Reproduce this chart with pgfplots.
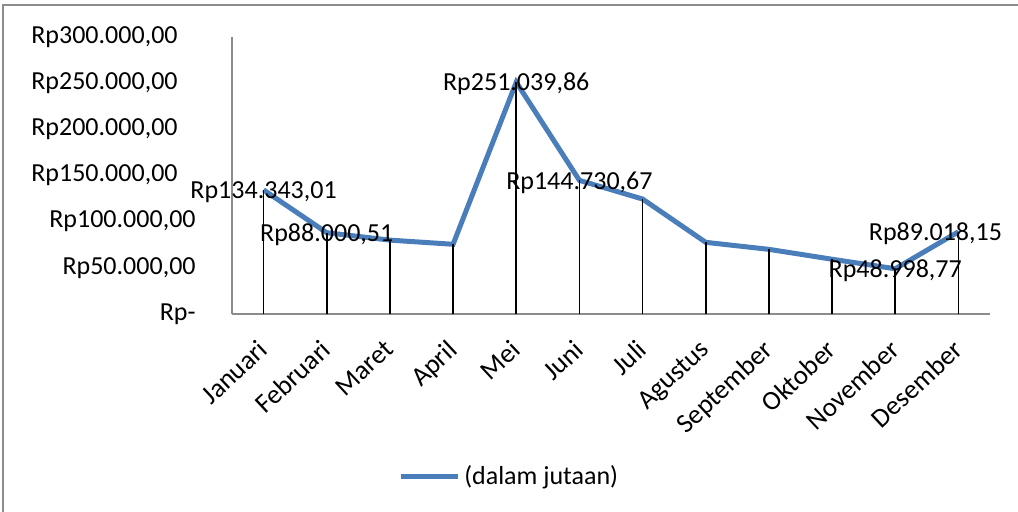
\documentclass[border=0pt]{standalone}
\usepackage{fontspec}
\setmainfont{Carlito}
\usepackage{pgfplots}
\pgfplotsset{compat=1.18}
\usepackage{pgfplotstable}
\definecolor{lineblue}{HTML}{4A7EBB}
\definecolor{axgray}{HTML}{8C8C8C}

\pgfplotstableread{
x y
0 134343.01
1 88000.51
2 80000
3 75500
4 251039.86
5 144730.67
6 124500
7 77600
8 70000
9 59300
10 48998.77
11 89018.15
}\datatable

\pgfplotstableread{
x y label
0 134343.01 Rp134.343,01
1 88000.51 Rp88.000,51
4 251039.86 Rp251.039,86
5 144730.67 Rp144.730,67
10 48998.77 Rp48.998,77
}\labeltable

\pgfplotstableread{
x y label
11 89018.15 Rp89.018,15
}\labeltableb

\newcommand{\pad}{\rule{9pt}{0pt}}

\begin{document}
\begin{tikzpicture}[font=\fontsize{13}{15.6}\selectfont]
\useasboundingbox (0,0) rectangle (509pt,256pt);
\draw[axgray, line width=1pt] (1.5pt,0) -- (1.5pt,253.5pt) -- (509pt,253.5pt);
\begin{axis}[
  at={(116pt,99pt)}, anchor=south west,
  scale only axis, width=379pt, height=138.5pt,
  xmin=-0.5, xmax=11.5, ymin=0, ymax=300000,
  clip=false,
  axis x line*=bottom, axis y line*=left,
  axis line style={axgray, line width=0.8pt, -},
  xtick={0,...,11},
  xticklabels={Januari,Februari,Maret,April,Mei,Juni,Juli,Agustus,September,Oktober,November,Desember},
  ytick={0,50000,100000,150000,200000,250000,300000},
  yticklabels={Rp-,{Rp50.000,00},{Rp100.000,00},{Rp150.000,00\pad},{Rp200.000,00\pad},{Rp250.000,00\pad},{Rp300.000,00\pad}},
  major tick length=0pt,
  scaled y ticks=false,
  yticklabel style={anchor=east, inner sep=0pt, xshift=-18pt},
  xticklabel style={anchor=north east, inner sep=0pt, xshift=-3.5pt, yshift=-12pt, rotate=43, font=\fontsize{13.5}{16}\selectfont},
  legend style={at={(0.367,-0.588)}, anchor=center, draw=none, fill=none, font=\fontsize{13}{15.6}\selectfont},
  legend image code/.code={\draw[#1] (0pt,0pt) -- (28.5pt,0pt);},
]
\addplot[lineblue, line width=2.5pt, mark=none] table[x=x,y=y] {\datatable};
\addlegendentry{(dalam jutaan)}
\addplot[ycomb, black, line width=0.9pt, mark=none, forget plot] table[x=x,y=y] {\datatable};
\addplot[draw=none, mark=none, forget plot, nodes near coords, point meta=explicit symbolic,
  nodes near coords style={anchor=center, yshift=-1pt, text=black, inner sep=0pt}]
  table[x=x,y=y,meta=label] {\labeltable};
\addplot[draw=none, mark=none, forget plot, nodes near coords, point meta=explicit symbolic,
  nodes near coords style={anchor=center, yshift=-1pt, xshift=-11.5pt, text=black, inner sep=0pt}]
  table[x=x,y=y,meta=label] {\labeltableb};
\end{axis}
\end{tikzpicture}
\end{document}
